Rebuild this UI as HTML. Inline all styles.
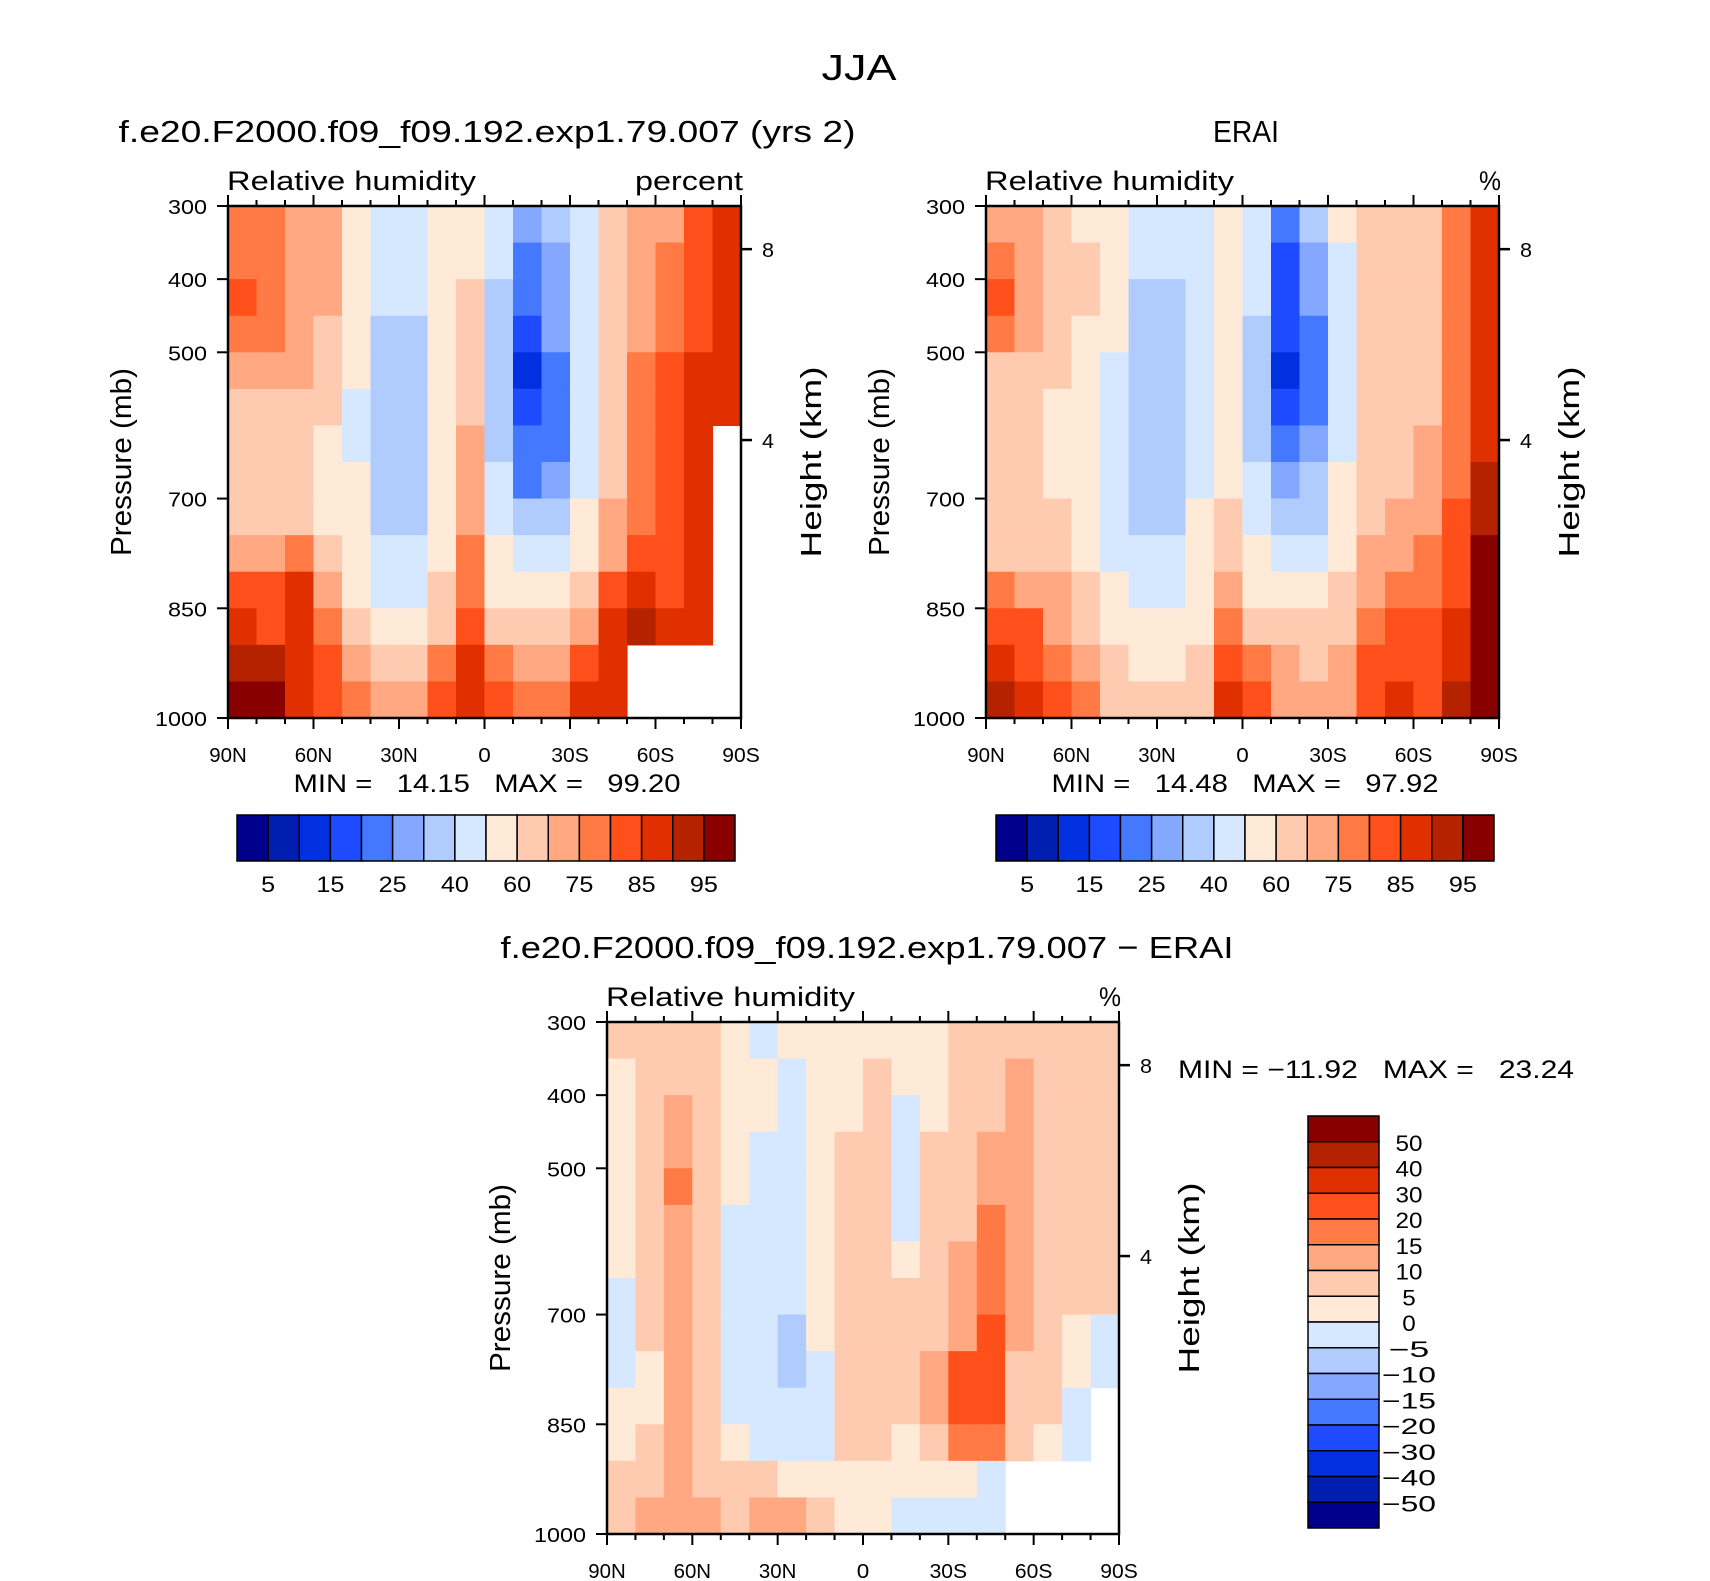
<!DOCTYPE html>
<html><head><meta charset="utf-8"><style>
html,body{margin:0;padding:0;background:#fff;}
svg{display:block;font-family:"Liberation Sans",sans-serif;}
</style></head><body>
<svg id="fig" width="1710" height="1581" viewBox="0 0 1710 1581" xmlns="http://www.w3.org/2000/svg"></svg>
<script>
// ===== data =====
const lats = [90,80,70,60,50,40,30,20,10,0,-10,-20,-30,-40,-50,-60,-70,-80,-90];
const plevs = [300,350,400,450,500,550,600,650,700,750,800,850,900,950,1000];
const rhLevels = [5,10,15,20,25,30,40,50,60,70,75,80,85,90,95];
const rhLabels = ["5","15","25","40","60","75","85","95"];
const diffLevels = [-50,-40,-30,-20,-15,-10,-5,0,5,10,15,20,30,40,50];
const diffLabels = ["50","40","30","20","15","10","5","0","\u22125","\u221210","\u221215","\u221220","\u221230","\u221240","\u221250"];
const N = null;
const modelRH = [
[75,75,72,70,55,45,45,55,58,45,25,30,45,60,70,72,80,88],
[78,78,72,70,55,42,42,55,58,40,22,28,45,62,72,75,80,88],
[80,78,72,70,55,40,40,55,60,38,20,26,45,62,72,78,82,88],
[78,76,70,68,52,38,38,55,62,36,18,25,45,65,74,78,84,88],
[72,72,70,65,50,38,38,55,65,35,14,22,42,65,75,80,85,88],
[68,68,65,62,48,38,38,55,68,35,17,22,42,65,75,80,85,88],
[62,62,60,58,48,38,38,55,70,36,20,24,44,65,75,80,85,N],
[62,62,60,58,50,38,38,55,72,40,24,28,46,68,76,80,85,N],
[65,65,66,58,50,38,38,55,72,45,30,35,52,70,78,82,86,N],
[72,74,78,65,52,40,40,58,75,52,40,42,58,74,82,84,86,N],
[80,80,85,72,55,45,45,60,78,58,50,50,62,80,88,84,86,N],
[85,84,86,78,62,55,55,68,82,68,60,62,70,85,92,88,86,N],
[92,90,87,80,70,62,62,75,86,78,72,72,80,85,N,N,N,N],
[98,95,88,82,75,72,72,80,88,82,78,78,85,88,N,N,N,N]];
const eraRH = [
[72,70,62,58,55,42,42,48,58,45,20,30,50,60,65,65,75,85],
[78,72,64,60,55,40,40,48,58,42,18,28,48,60,65,65,75,85],
[82,72,64,60,52,35,35,46,58,40,16,26,46,60,65,66,75,86],
[75,70,62,58,50,34,34,46,56,38,15,24,45,60,65,66,75,86],
[68,66,60,56,48,34,34,46,55,36,14,22,45,60,65,66,76,86],
[62,62,58,55,46,35,35,46,55,36,16,22,46,60,65,68,76,88],
[60,60,58,55,45,38,38,48,56,38,20,25,48,62,66,70,78,88],
[60,60,58,55,45,38,38,48,58,40,25,30,50,64,68,72,78,90],
[62,62,60,56,46,38,38,50,60,42,32,36,52,66,70,74,80,92],
[68,68,64,58,48,40,40,52,65,50,40,45,56,70,72,76,82,95],
[75,74,70,62,50,44,44,54,70,58,50,52,60,72,75,78,84,96],
[82,80,74,66,55,50,50,58,78,66,60,60,66,76,80,80,86,97],
[88,84,78,72,62,58,58,60,84,76,70,68,72,82,84,82,88,97],
[94,88,80,76,66,62,62,62,86,80,74,70,74,84,86,84,90,97]];
const diffRH = [
[5,8,6,5,2,-2,2,3,2,3,3,3,5,5,8,5,5,5],
[4,8,8,7,3,2,-2,3,3,5,3,4,6,6,10,6,6,6],
[3,8,10,8,3,2,-2,2,3,5,-2,4,6,8,12,8,6,6],
[3,7,12,8,2,-2,-3,2,5,6,-2,5,8,10,12,8,8,6],
[3,6,15,8,2,-2,-3,2,6,6,-2,5,8,12,12,8,8,6],
[3,6,12,7,-2,-2,-3,2,6,6,-2,5,8,15,12,8,8,6],
[3,6,10,7,-2,-3,-3,2,6,7,3,6,10,18,10,8,6,5],
[-2,5,10,7,-2,-3,-4,2,6,7,5,6,10,18,10,7,5,5],
[-2,5,10,6,-2,-3,-6,2,6,7,6,8,12,20,10,6,4,-3],
[-2,4,10,5,-2,-3,-6,-2,6,8,8,12,20,25,8,5,3,-3],
[3,4,10,5,-2,-3,-4,-2,7,8,6,12,22,22,8,5,-2,N],
[4,6,12,6,3,-2,-2,-2,5,5,4,8,15,15,8,4,-2,N],
[6,8,12,8,5,5,4,3,3,3,3,3,3,-3,N,N,N,N],
[8,10,12,10,8,12,10,8,3,3,-3,-3,-3,-3,N,N,N,N]];

const colors = ['#00008C','#001EB0','#0030E0','#1E4BFF','#4479FF','#84A8FF','#B0CCFF','#D6E8FF','#FFEAD8','#FFCBB0','#FFA882','#FF7A45','#FF4F1A','#E03000','#B42200','#880000'];

// ===== drawing =====
const NS='http://www.w3.org/2000/svg';
const svg=document.getElementById('fig');
function el(tag,attrs,parent){const e=document.createElementNS(NS,tag);for(const k in attrs)e.setAttribute(k,attrs[k]);(parent||svg).appendChild(e);return e;}
function txt(s,x,y,size,anchor,parent,extra,len){const a=Object.assign({x:x,y:y,'font-size':size,'text-anchor':anchor||'middle',fill:'#000'},extra||{});
  if(len){a.textLength=len;a.lengthAdjust='spacingAndGlyphs';}
  const t=el('text',a,parent);t.textContent=s;return t;}
function colorFor(v,levels){if(v===null)return null;let i=0;while(i<levels.length&&v>=levels[i])i++;return colors[i];}

const t0=txt('JJA',859,80,36,'middle',null,null,75);



function panel(name,x0,y0,W,H,data,levels,title,unit,unitLen){
  const g=el('g',{});
  
  
  const xs=lat=>x0+(90-lat)/180*W;
  const ys=p=>y0+(p-300)/700*H;
  for(let r=0;r<data.length;r++){
    for(let c=0;c<data[r].length;c++){
      const col=colorFor(data[r][c],levels);
      if(!col)continue;
      const xa=xs(lats[c]),xb=xs(lats[c+1]),ya=ys(plevs[r]),yb=ys(plevs[r+1]);
      const rc=el('rect',{x:xa,y:ya,width:xb-xa+0.6,height:yb-ya+0.6,fill:col},g);
      
      
    }
  }
  el('rect',{x:x0,y:y0,width:W,height:H,fill:'none',stroke:'#000','stroke-width':2.5},g);
  for(let lat=90;lat>=-90;lat-=10){
    const major=(lat%30===0);const L=major?11:6;const x=xs(lat);
    el('line',{x1:x,y1:y0+H,x2:x,y2:y0+H+L,stroke:'#000','stroke-width':2},g);
    el('line',{x1:x,y1:y0,x2:x,y2:y0-L,stroke:'#000','stroke-width':2},g);
    if(major){const lab=lat===0?'0':(Math.abs(lat)+(lat>0?'N':'S'));
      const tl=txt(lab,x,y0+H+44,20,'middle',g,null,lab.length*12.5);
      
      }
  }
  [300,400,500,700,850,1000].forEach(p=>{const y=ys(p);
    el('line',{x1:x0-11,y1:y,x2:x0,y2:y,stroke:'#000','stroke-width':2},g);
    const s=String(p);
    const tl=txt(s,x0-21,y+8,20,'end',g,null,s.length*13);
    
    });
  [[8,359],[4,620]].forEach(h=>{const y=ys(h[1]);
    el('line',{x1:x0+W,y1:y,x2:x0+W+11,y2:y,stroke:'#000','stroke-width':2.5},g);
    const tl=txt(String(h[0]),x0+W+21,y+8,20,'start',g,null,12);
    
    });
  const pt=txt('Pressure (mb)',0,0,29,'middle',g,{transform:`translate(${x0-97},${y0+H/2}) rotate(-90)`},188);
  
  
  const ht=txt('Height (km)',0,0,29,'middle',g,{transform:`translate(${x0+W+80},${y0+H/2}) rotate(-90)`},191);
  
  
  const lt=txt('Relative humidity',x0-1,y0-16,27,'start',g,null,249);
  
  
  const ut=txt(unit,x0+W+2,y0-16,27,'end',g,null,unitLen);
  
  
  const tt=txt(title.s,title.x,y0-64,31,'middle',g,null,title.len);
  
  
}
panel('model-panel',228,206,513,512,modelRH,rhLevels,{s:'f.e20.F2000.f09_f09.192.exp1.79.007 (yrs 2)',x:487,len:737},'percent',108);
panel('erai-panel',986,206,513,512,eraRH,rhLevels,{s:'ERAI',x:1246,len:66},'%',22);
panel('diff-panel',607,1022,512,512,diffRH,diffLevels,{s:'f.e20.F2000.f09_f09.192.exp1.79.007 \u2212 ERAI',x:867,len:733},'%',22);

function minmax(s,x,y,anchor,name,len){const t=txt(s,x,y,25,anchor,null,null,len);t.setAttribute('xml:space','preserve');t.style.whiteSpace='pre';
  
  }
minmax('MIN =   14.15   MAX =   99.20',487,792,'middle','min-max-model',387);
minmax('MIN =   14.48   MAX =   97.92',1245,792,'middle','min-max-erai',387);
minmax('MIN = \u221211.92   MAX =   23.24',1178,1078,'start','min-max-diff',396);

function hbar(name,x0,y0,W,H){
  const g=el('g',{});
  
  
  const bw=W/colors.length;
  colors.forEach((c,i)=>{const r=el('rect',{x:x0+i*bw,y:y0,width:bw,height:H,fill:c,stroke:'#000','stroke-width':1.5},g);
    
    });
  rhLabels.forEach((s,k)=>{const t=txt(s,x0+(2*k+1)*bw,y0+H+31,22,'middle',g,null,s.length*14);
    
    });
}
hbar('colorbar-model',237,815,498,46);
hbar('colorbar-erai',996,815,498,46);

(function(){
  const g=el('g',{});
  
  
  const x0=1308,y0=1116,W=71,H=412,bh=H/colors.length;
  for(let i=0;i<colors.length;i++){
    const r=el('rect',{x:x0,y:y0+i*bh,width:W,height:bh,fill:colors[colors.length-1-i],stroke:'#000','stroke-width':1.5},g);
    
    
  }
  diffLabels.forEach((s,k)=>{const t=txt(s,1409,y0+(k+1)*bh+9,22,'middle',g,null,s.replace('\u2212','--').length*13.5);
    
    });
})();
</script>
</body></html>
